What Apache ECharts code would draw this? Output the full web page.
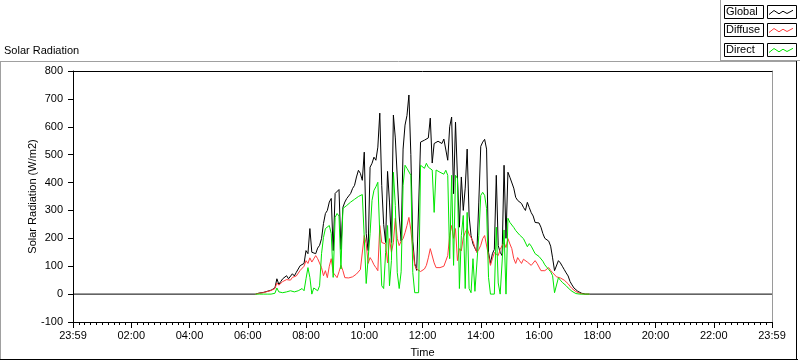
<!DOCTYPE html>
<html>
<head>
<meta charset="utf-8">
<script src="https://cdn.jsdelivr.net/npm/echarts@6/dist/echarts.min.js"></script>
<style>
html,body{margin:0;padding:0;background:#fff;}
#chart{width:800px;height:361px;}
</style>
</head>
<body>
<div id="chart"></div>
<script>
// ---- data (W/m2), sampled every 4 minutes from 06:16 ----
const title = 'Solar Radiation';
const yAxisTitle = 'Solar Radiation (W/m2)';
const xAxisTitle = 'Time';
const seriesNames = ['Global', 'Diffuse', 'Direct'];
const xTickLabels = ['23:59','02:00','04:00','06:00','08:00','10:00','12:00','14:00','16:00','18:00','20:00','22:00','23:59'];
const yTicks = [-100, 0, 100, 200, 300, 400, 500, 600, 700, 800];
const startTime = '06:16';
const stepMinutes = 4;

const globalVals = [
  0,2,4,5,6,8,10,12,14,16,
  22,55,35,45,55,48,66,55,60,73,
  65,78,80,102,98,110,156,145,235,150,
  155,145,165,175,199,253,289,300,330,343,
  156,361,368,375,160,311,330,343,352,361,
  379,390,420,444,433,408,509,217,156,455,
  469,491,480,527,649,390,250,185,440,330,
  185,642,560,420,280,190,520,606,640,714,
  500,190,110,85,78,545,541,552,558,560,
  631,470,540,545,548,552,540,556,550,480,
  600,635,360,617,420,240,420,300,380,520,
  280,210,180,165,150,330,530,545,555,520,
  150,110,145,160,426,174,150,138,462,200,
  437,419,426,380,347,336,336,325,311,300,
  329,310,292,280,257,262,255,240,217,200,
  195,190,172,130,84,80,120,112,100,88,
  76,65,45,33,22,15,10,6,3,1,
  0,0,0
];
const diffuseVals = [
  0,1,3,4,5,7,9,11,13,15,
  20,40,32,38,45,42,52,48,50,60,
  55,65,68,85,88,100,120,110,130,115,
  120,138,127,130,95,66,84,59,100,127,
  77,70,59,80,103,84,59,56,58,59,
  62,66,72,77,88,95,210,181,110,131,
  120,105,95,84,246,185,190,180,112,199,
  150,185,272,200,174,190,199,220,246,275,
  230,163,103,90,84,81,82,90,103,130,
  163,167,112,95,97,95,90,100,103,138,
  210,246,200,235,120,163,155,203,221,235,
  215,210,190,167,150,160,175,199,210,217,
  138,103,127,149,145,138,160,174,185,167,
  199,180,163,127,110,131,120,110,125,131,
  115,120,103,110,120,110,103,84,90,84,
  86,95,85,77,70,62,55,58,55,50,
  45,37,28,20,14,9,5,3,1,0,
  0,0,0
];
const directVals = [
  0,0,0,0,0,0,0,0,0,0,
  3,22,8,10,5,10,8,10,12,10,
  8,10,12,15,20,12,55,95,60,0,
  22,20,12,30,145,203,235,240,246,217,
  60,275,289,280,90,307,311,318,325,330,
  336,340,347,350,354,357,203,38,40,217,
  336,372,385,401,401,30,20,149,246,30,
  120,437,318,77,20,80,390,462,451,455,
  426,77,5,3,5,462,455,451,469,455,
  451,445,293,445,440,437,432,430,444,426,
  127,426,103,426,415,20,210,282,20,293,
  20,5,127,10,5,210,354,365,354,307,
  60,0,0,0,240,40,0,0,230,0,
  272,257,257,239,228,221,212,205,199,192,
  170,181,172,167,145,145,135,128,118,105,
  100,88,80,66,5,5,59,50,42,35,
  30,22,18,10,5,2,0,0,0,0,
  0,0,0
];

// ---- build ----
const startMin = parseInt(startTime.split(':')[0]) * 60 + parseInt(startTime.split(':')[1]);
function toPairs(vals) { return vals.map((v, i) => [startMin + i * stepMinutes, v]); }
const globalData = [[0, 0]].concat(toPairs(globalVals), [[1440, 0]]);
const diffuseData = toPairs(diffuseVals);
const directData = toPairs(directVals);

const FONT = 'Liberation Sans, Arial, sans-serif';
const chart = echarts.init(document.getElementById('chart'), null, { renderer: 'canvas' });

function zig(x0, y0) {
  return [[x0 + 2, y0 + 13.5], [x0 + 7, y0 + 9.5], [x0 + 12, y0 + 12.8], [x0 + 16, y0 + 10.2], [x0 + 20, y0 + 12.5], [x0 + 26, y0 + 9.3]];
}
const legendColors = ['#000000', '#ff3c3c', '#00e600'];
const legendTops = [5, 23, 43];
const graphics = [
  { type: 'line', shape: { x1: 0, y1: 61.5, x2: 797, y2: 61.5 }, style: { stroke: '#a0a0a0', lineWidth: 1 }, silent: true },
  { type: 'line', shape: { x1: 0.5, y1: 61, x2: 0.5, y2: 360 }, style: { stroke: '#a0a0a0', lineWidth: 1 }, silent: true },
  { type: 'line', shape: { x1: 0, y1: 359.5, x2: 798, y2: 359.5 }, style: { stroke: '#000', lineWidth: 1 }, silent: true },
  { type: 'line', shape: { x1: 796.5, y1: 61, x2: 796.5, y2: 360 }, style: { stroke: '#000', lineWidth: 1 }, silent: true },
  { type: 'line', shape: { x1: 720.5, y1: 0, x2: 720.5, y2: 61 }, style: { stroke: '#a0a0a0', lineWidth: 1 }, silent: true },
  { type: 'line', shape: { x1: 720, y1: 60.5, x2: 800, y2: 60.5 }, style: { stroke: '#a0a0a0', lineWidth: 1 }, silent: true },
  { type: 'text', left: 4, top: 45, style: { text: title, font: '11px ' + FONT, fill: '#000' }, silent: true }
];
seriesNames.forEach((n, k) => {
  const t = legendTops[k];
  graphics.push({ type: 'rect', shape: { x: 724.5, y: t + 0.5, width: 39, height: 13 }, style: { fill: '#fff', stroke: '#000', lineWidth: 1 }, silent: true });
  graphics.push({ type: 'text', x: 726, y: t + 1.5, style: { text: n, font: '11px ' + FONT, fill: '#000' }, silent: true });
  graphics.push({ type: 'rect', shape: { x: 767.5, y: t + 0.5, width: 29, height: 13 }, style: { fill: '#fff', stroke: '#000', lineWidth: 1 }, silent: true });
  graphics.push({ type: 'polyline', shape: { points: zig(767, t - 4) }, style: { stroke: legendColors[k], lineWidth: 1, fill: null }, silent: true });
});

const option = {
  animation: false,
  backgroundColor: '#fff',
  textStyle: { fontFamily: FONT },
  grid: { left: 73, right: 28, top: 71, bottom: 39, containLabel: false, outerBoundsMode: 'none' },
  xAxis: [{
    type: 'value', min: 0, max: 1440, interval: 120,
    name: xAxisTitle, nameLocation: 'middle', nameGap: 25, nameMoveOverlap: false,
    nameTextStyle: { fontSize: 11, color: '#000', fontFamily: FONT },
    axisLine: { show: true, onZero: false, lineStyle: { color: '#000', width: 1 } },
    axisTick: { show: true, length: 6, lineStyle: { color: '#000' } },
    minorTick: { show: true, splitNumber: 10, length: 3, lineStyle: { color: '#000' } },
    axisLabel: { fontSize: 11, color: '#000', margin: 8, fontFamily: FONT,
      formatter: v => xTickLabels[Math.round(v / 120)] || '' },
    splitLine: { show: false }, minorSplitLine: { show: false }
  }, {
    type: 'value', min: 0, max: 1440, position: 'top',
    axisLine: { show: true, onZero: false, lineStyle: { color: '#000', width: 1 } },
    axisTick: { show: false }, axisLabel: { show: false }, splitLine: { show: false }
  }],
  yAxis: [{
    type: 'value', min: yTicks[0], max: yTicks[yTicks.length - 1], interval: 100,
    name: yAxisTitle, nameLocation: 'middle', nameGap: 35, nameMoveOverlap: false,
    nameTextStyle: { fontSize: 11, color: '#000', fontFamily: FONT },
    axisLine: { show: true, onZero: false, lineStyle: { color: '#000', width: 1 } },
    axisTick: { show: true, length: 5, lineStyle: { color: '#000' } },
    axisLabel: { fontSize: 11, color: '#000', margin: 10, fontFamily: FONT },
    splitLine: { show: false }
  }, {
    type: 'value', min: yTicks[0], max: yTicks[yTicks.length - 1], position: 'right',
    axisLine: { show: true, onZero: false, lineStyle: { color: '#9a9a9a', width: 1 } },
    axisTick: { show: false }, axisLabel: { show: false }, splitLine: { show: false }
  }],
  series: [
    { name: seriesNames[0], type: 'line', data: globalData, showSymbol: false, symbol: 'none',
      lineStyle: { color: legendColors[0], width: 1 }, itemStyle: { color: legendColors[0] }, silent: true },
    { name: seriesNames[1], type: 'line', data: diffuseData, showSymbol: false, symbol: 'none',
      lineStyle: { color: legendColors[1], width: 1 }, itemStyle: { color: legendColors[1] }, silent: true },
    { name: seriesNames[2], type: 'line', data: directData, showSymbol: false, symbol: 'none',
      lineStyle: { color: legendColors[2], width: 1 }, itemStyle: { color: legendColors[2] }, silent: true }
  ],
  graphic: graphics
};
chart.setOption(option);
</script>
</body>
</html>
